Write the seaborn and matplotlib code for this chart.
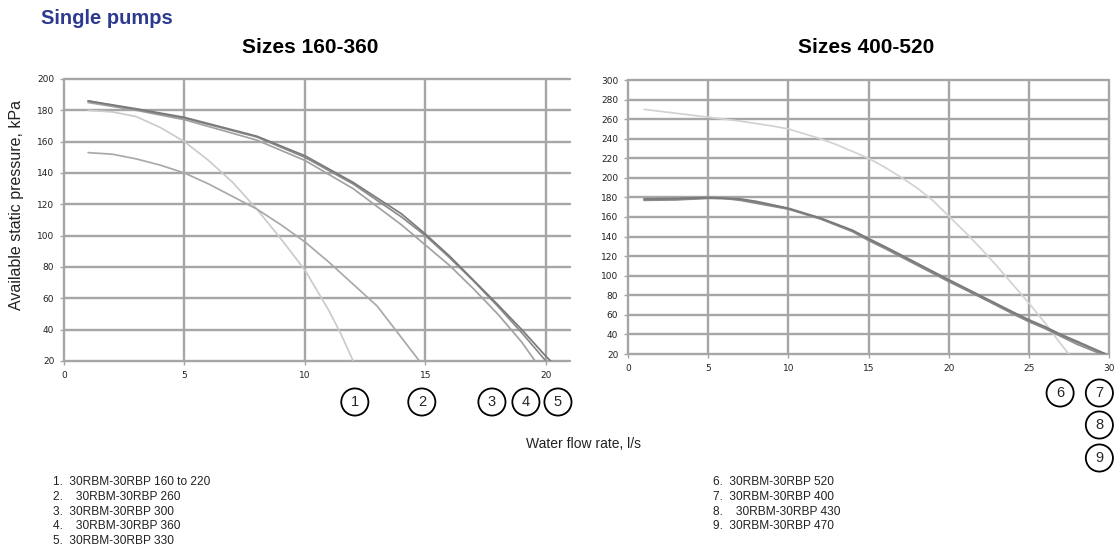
# pump curves - available static pressure vs water flow rate
import matplotlib
matplotlib.use("Agg")
import matplotlib.pyplot as plt
import matplotlib.transforms as mtransforms
import seaborn as sns

# ---- data ----
# sizes 160-360
x1 = [1, 2, 3, 4, 5, 6, 7, 8, 9, 10, 11, 11.5, 12]
y1 = [180, 179, 176, 169, 160, 148, 134, 117, 98, 78, 52, 37, 20]
x2 = [1, 2, 3, 4, 5, 6, 7, 8, 9, 10, 11, 12, 13, 14, 14.75]
y2 = [153, 152, 149, 145, 140, 133, 125, 117, 107, 96, 83, 69, 55, 35, 20]
x3 = [1, 3, 5, 8, 10, 12, 14, 15, 16, 17, 18, 19, 19.55]
y3 = [185, 180, 174, 161, 148, 130, 107, 94, 81, 66, 50, 32, 20]
x4 = [1, 3, 5, 8, 10, 12, 14, 15, 16, 17, 18, 19, 20]
y4 = [186, 180.5, 175, 163, 150, 133, 112, 100, 86, 71, 55, 38, 20]
x5 = [1, 3, 5, 8, 10, 12, 14, 15, 16, 17, 18, 19, 20, 20.2]
y5 = [186, 181, 175.5, 163.5, 151, 134, 114, 101, 87, 71.5, 56, 40, 23, 20]

# sizes 400-520
x6 = [1, 3, 5, 7, 9, 10, 11, 12, 13, 14, 15, 16, 17, 18, 19, 20, 21, 22, 23, 24, 25, 26, 27, 27.5]
y6 = [270, 266, 262, 258, 253, 250, 245, 240, 234, 227, 220, 211, 201, 190, 177, 161, 145, 128, 110, 91, 72, 52, 30, 20]
x7 = [1, 3, 5, 6, 7, 8, 10, 12, 14, 15, 16, 18, 20, 22, 24, 25, 26, 27, 28, 29.5]
y7 = [177, 177.5, 179, 179, 177, 174, 168, 158, 145, 136, 128, 111, 94, 78, 61, 53, 46, 38, 30, 20]
x8 = [1, 3, 5, 7, 8, 10, 12, 14, 15, 16, 18, 20, 22, 24, 25, 26, 27, 28, 29.7]
y8 = [178, 178, 179.5, 178, 175, 168.5, 158.5, 146, 137, 129, 112, 95, 78, 62, 54, 47, 39, 32, 20]
x9 = [1, 3, 5, 7, 8, 10, 12, 14, 15, 16, 18, 20, 22, 24, 25, 26, 27, 28, 29.8]
y9 = [178.5, 179, 180, 178.5, 176, 169, 159, 146.5, 138, 130, 113, 96, 79.5, 63, 55, 48, 40, 33, 20]

left_ids = ["1", "2", "3", "4", "5"]
left_marker_x = [12.07, 14.85, 17.76, 19.17, 20.5]
right_ids = ["6", "7", "8", "9"]
right_marker_x = [26.95, 29.4, 29.4, 29.4]

left_names = ["1.  30RBM-30RBP 160 to 220", "2.    30RBM-30RBP 260", "3.  30RBM-30RBP 300",
              "4.    30RBM-30RBP 360", "5.  30RBM-30RBP 330"]
right_names = ["6.  30RBM-30RBP 520", "7.  30RBM-30RBP 400", "8.    30RBM-30RBP 430",
               "9.  30RBM-30RBP 470"]

left_curves = [(x1, y1, "#cbcbcb"), (x2, y2, "#a9a9a9"), (x3, y3, "#a2a2a2"),
               (x4, y4, "#8a8a8a"), (x5, y5, "#7a7a7a")]
right_curves = [(x6, y6, "#d2d2d2"), (x7, y7, "#8e8e8e"), (x8, y8, "#858585"), (x9, y9, "#7a7a7a")]

sns.set_style("white")
plt.rcParams["font.family"] = ["Liberation Sans", "DejaVu Sans"]

fig = plt.figure(figsize=(11.18, 5.47), dpi=100)
axL = fig.add_axes([64 / 1118, 1 - 361 / 547, 506 / 1118, 282 / 547])
axR = fig.add_axes([628 / 1118, 1 - 354 / 547, 481 / 1118, 274 / 547])


def style_axes(ax, xlim, xticks, ylim, yticks):
    ax.set_xlim(*xlim)
    ax.set_ylim(*ylim)
    ax.set_xticks(xticks)
    ax.set_yticks(yticks)
    ax.grid(True, color="#a6a6a6", lw=1.7, clip_on=False)
    ax.set_axisbelow(True)
    for s in ax.spines.values():
        s.set_visible(False)
    ax.tick_params(axis="both", length=3, width=1, color="#a6a6a6", pad=4,
                   labelsize=6.5, labelcolor="#222222", left=True, bottom=True)
    for lab in ax.get_xticklabels() + ax.get_yticklabels():
        lab.set_family("DejaVu Sans")
    ax.set_xlabel("")
    ax.set_ylabel("")


for xs, ys, c in left_curves:
    sns.lineplot(x=xs, y=ys, ax=axL, color=c, lw=1.25, sort=False)
for xs, ys, c in right_curves:
    sns.lineplot(x=xs, y=ys, ax=axR, color=c, lw=1.25, sort=False)

style_axes(axL, (0, 21), [0, 5, 10, 15, 20], (20, 200), list(range(20, 201, 20)))
style_axes(axR, (0, 30), [0, 5, 10, 15, 20, 25, 30], (20, 300), list(range(20, 301, 20)))

# numbered circles under the curve ends
circ = dict(boxstyle="circle,pad=0.45", fc="white", ec="black", lw=1.3)
tL = mtransforms.blended_transform_factory(axL.transData, fig.transFigure)
for lab, xv in zip(left_ids, left_marker_x):
    axL.text(xv, 1 - 402 / 547, lab, transform=tL, ha="center", va="center",
             fontsize=10.5, bbox=circ, clip_on=False)
tR = mtransforms.blended_transform_factory(axR.transData, fig.transFigure)
for lab, xv, yp in zip(right_ids, right_marker_x, [393, 393, 425, 458]):
    axR.text(xv, 1 - yp / 547, lab, transform=tR, ha="center", va="center",
             fontsize=10.5, bbox=circ, clip_on=False)

# titles and labels
fig.text(41 / 1118, 1 - 19 / 547, "Single pumps", fontsize=14.5, fontweight="bold",
         color="#2e3a8f", ha="left", va="center")
fig.text(310 / 1118, 1 - 48 / 547, "Sizes 160-360", fontsize=15, fontweight="bold",
         color="black", ha="center", va="center")
fig.text(866 / 1118, 1 - 48 / 547, "Sizes 400-520", fontsize=15, fontweight="bold",
         color="black", ha="center", va="center")
fig.text(17 / 1118, 1 - 205 / 547, "Available static pressure, kPa", fontsize=11.5,
         rotation=90, ha="center", va="center", color="#222222")
fig.text(583 / 1118, 1 - 444 / 547, "Water flow rate, l/s", fontsize=10,
         ha="center", va="center", color="#222222")

for i, name in enumerate(left_names):
    fig.text(53 / 1118, 1 - (482 + 14.8 * i) / 547, name, fontsize=8.6,
             ha="left", va="center", color="#222222")
for i, name in enumerate(right_names):
    fig.text(713 / 1118, 1 - (482 + 14.8 * i) / 547, name, fontsize=8.6,
             ha="left", va="center", color="#222222")

plt.savefig("out.png", dpi=100)
